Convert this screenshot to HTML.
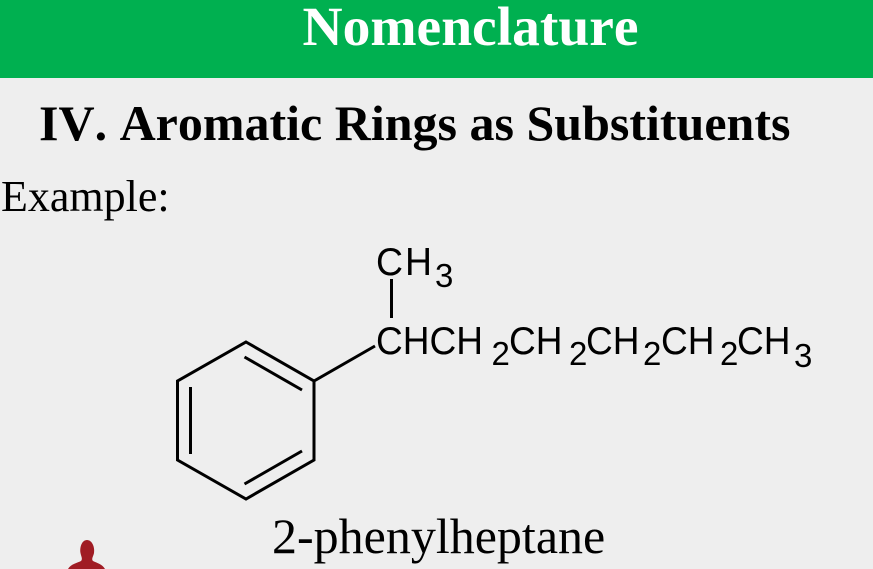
<!DOCTYPE html>
<html>
<head>
<meta charset="utf-8">
<style>
html,body{margin:0;padding:0;background:#eeeeee;}
svg{display:block;}
.s{font-family:"Liberation Serif",serif;font-kerning:none;}
.c{font-family:"Liberation Sans",sans-serif;font-size:39px;fill:#000;font-kerning:none;}
.n{font-family:"Liberation Sans",sans-serif;font-size:33px;fill:#000;}
</style>
</head>
<body>
<svg width="873" height="569" viewBox="0 0 873 569" xmlns="http://www.w3.org/2000/svg">
<rect width="873" height="569" fill="#eeeeee"/>
<rect width="873" height="78" fill="#00b050"/>
<text class="s" x="302.500" y="45" font-size="55.500" font-weight="bold" fill="#ffffff">Nomenclature</text>
<text class="s" x="39" y="140" font-size="50" font-weight="bold" fill="#000">IV. Aromatic Rings as Substituents</text>
<text class="s" x="1" y="211" font-size="44" fill="#000">Example:</text>
<text class="s" x="272" y="553" font-size="50" fill="#000">2-phenylheptane</text>

<g fill="none" stroke="#000" stroke-width="3" stroke-linejoin="miter">
<polygon points="246,342 314,381 314,460 246,499 177.500,460 177.500,381"/>
<line x1="244.500" y1="357" x2="302" y2="390"/>
<line x1="190.500" y1="387" x2="190.500" y2="454"/>
<line x1="244.500" y1="484" x2="302" y2="451"/>
<line x1="314" y1="381" x2="375" y2="346"/>
<line x1="391.500" y1="279" x2="391.500" y2="318"/>
</g>

<text class="c" x="376" y="275" textLength="27" lengthAdjust="spacingAndGlyphs">C</text>
<text class="c" x="405" y="275" textLength="27" lengthAdjust="spacingAndGlyphs">H</text>
<text class="n" x="435" y="287">3</text>

<text class="c" x="376" y="354" textLength="107" lengthAdjust="spacingAndGlyphs">CHCH</text>
<text class="n" x="491.500" y="365">2</text>
<text class="c" x="509" y="354" textLength="53.500" lengthAdjust="spacingAndGlyphs">CH</text>
<text class="n" x="569" y="365">2</text>
<text class="c" x="586" y="354" textLength="53.500" lengthAdjust="spacingAndGlyphs">CH</text>
<text class="n" x="643" y="365">2</text>
<text class="c" x="661" y="354" textLength="53.500" lengthAdjust="spacingAndGlyphs">CH</text>
<text class="n" x="720" y="365">2</text>
<text class="c" x="737" y="354" textLength="53.500" lengthAdjust="spacingAndGlyphs">CH</text>
<text class="n" x="794" y="367">3</text>

<path d="M68,569 C71,564 77,563 81,561 C83,559 81,556 80.500,553 C79.500,547 82,540 87,540 C92,540 95,547 94,553 C93.500,556 91,559 93,561 C97,563 102,564 105,569 Z" fill="#a01c24"/>
</svg>
</body>
</html>
